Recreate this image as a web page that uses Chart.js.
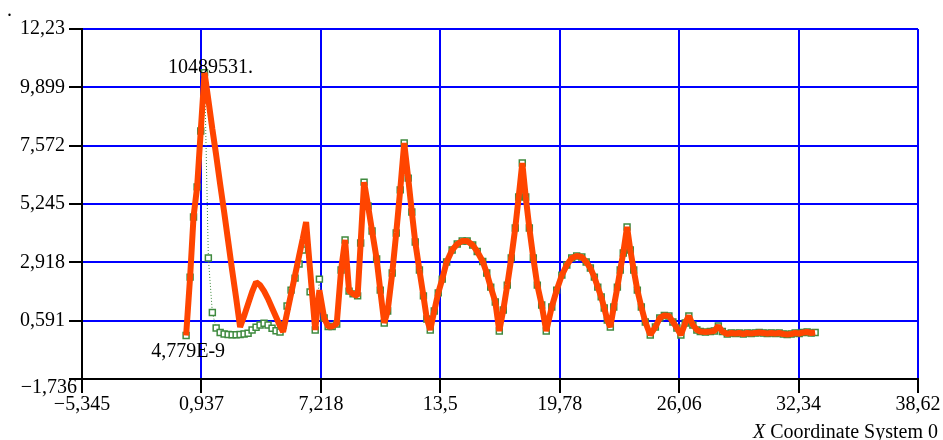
<!DOCTYPE html>
<html>
<head>
<meta charset="utf-8">
<script src="https://cdn.jsdelivr.net/npm/chart.js@4"></script>
<style>
  body { margin: 0; background: #fff; }
  #wrap { width: 943px; height: 440px; }
</style>
</head>
<body>
<div id="wrap"><canvas id="chart" width="943" height="440"></canvas></div>
<script>
// x positions of the samples
const xValues = [
  0.13, 0.34, 0.52, 0.71, 0.90, 1.10, 1.30, 1.51, 1.71, 1.92,
  2.13, 2.34, 2.55, 2.76, 2.97, 3.18, 3.39, 3.60, 3.81, 4.02,
  4.23, 4.44, 4.65, 4.86, 5.07, 5.23, 5.44, 5.65, 5.86, 6.07,
  6.26, 6.44, 6.65, 6.92, 7.14, 7.39, 7.60, 7.81, 8.05, 8.28,
  8.49, 8.70, 8.91, 9.15, 9.31, 9.49, 9.70, 9.91, 10.15, 10.34,
  10.55, 10.73, 10.97, 11.18, 11.39, 11.60, 11.81, 12.00, 12.18, 12.40,
  12.61, 12.79, 12.97, 13.18, 13.39, 13.60, 13.83, 14.12, 14.39, 14.65,
  14.91, 15.20, 15.44, 15.73, 15.94, 16.15, 16.39, 16.60, 16.81, 17.02,
  17.23, 17.44, 17.62, 17.81, 17.99, 18.18, 18.39, 18.60, 18.83, 19.07,
  19.36, 19.62, 19.89, 20.15, 20.41, 20.67, 20.94, 21.17, 21.39, 21.60,
  21.78, 21.96, 22.12, 22.28, 22.44, 22.62, 22.81, 22.96, 23.12, 23.32,
  23.49, 23.67, 23.86, 24.07, 24.28, 24.54, 24.81, 25.04, 25.28, 25.52,
  25.73, 25.94, 26.15, 26.38, 26.57, 26.78, 26.99, 27.17, 27.44, 27.70,
  27.91, 28.12, 28.33, 28.59, 28.80, 29.01, 29.22, 29.43, 29.64, 29.85,
  30.06, 30.27, 30.48, 30.69, 30.90, 31.11, 31.32, 31.53, 31.74, 31.95,
  32.16, 32.37, 32.58, 32.79, 33.00, 33.21
];

// thick orange curve
const orangeValues = [
  0.00, 2.33, 4.73, 5.93, 8.16, 10.49, 9.40, 8.24, 7.20, 6.04,
  4.93, 3.77, 2.61, 1.50, 0.34, 0.78, 1.26, 1.74, 2.13, 2.01,
  1.77, 1.46, 1.10, 0.74, 0.38, 0.14, 0.90, 1.66, 2.41, 3.17,
  3.85, 4.53, 2.61, 0.22, 1.81, 0.70, 0.36, 0.36, 0.46, 2.61,
  3.81, 1.77, 1.66, 1.58, 3.69, 6.12, 5.17, 4.17, 3.05, 1.81,
  0.50, 0.98, 2.49, 4.09, 5.81, 7.68, 6.28, 4.93, 3.73, 2.61,
  1.58, 0.66, 0.22, 0.98, 1.70, 2.25, 2.93, 3.41, 3.65, 3.77,
  3.77, 3.61, 3.35, 2.95, 2.49, 1.93, 1.34, 0.18, 1.02, 2.01,
  3.09, 4.29, 5.53, 6.88, 5.53, 4.29, 3.09, 2.01, 1.22, 0.18,
  1.14, 1.81, 2.41, 2.81, 3.09, 3.17, 3.13, 2.93, 2.69, 2.33,
  1.93, 1.54, 1.10, 0.62, 0.34, 1.14, 1.93, 2.61, 3.29, 4.33,
  3.41, 2.61, 1.81, 1.14, 0.54, 0.02, 0.34, 0.70, 0.80, 0.78,
  0.54, 0.30, 0.02, 0.50, 0.78, 0.42, 0.22, 0.16, 0.14, 0.16,
  0.18, 0.38, 0.16, 0.06, 0.10, 0.08, 0.10, 0.06, 0.10, 0.08,
  0.10, 0.12, 0.10, 0.08, 0.10, 0.08, 0.10, 0.06, 0.04, 0.06,
  0.10, 0.08, 0.12, 0.14, 0.10, 0.12
];

// green square markers (dotted)
const greenValues = [
  0.00, 2.33, 4.73, 5.93, 8.16, 10.49, 3.09, 0.92, 0.30, 0.12,
  0.06, 0.04, 0.03, 0.03, 0.04, 0.06, 0.09, 0.22, 0.33, 0.42,
  0.49, 0.42, 0.29, 0.19, 0.14, 0.42, 1.18, 1.81, 2.29, 2.85,
  3.41, 3.81, 1.74, 0.22, 2.25, 0.70, 0.36, 0.36, 0.46, 2.61,
  3.81, 1.77, 1.66, 1.58, 3.69, 6.12, 5.17, 4.17, 3.05, 1.81,
  0.50, 0.98, 2.49, 4.09, 5.81, 7.68, 6.28, 4.93, 3.73, 2.61,
  1.58, 0.66, 0.22, 0.98, 1.70, 2.25, 2.93, 3.41, 3.65, 3.77,
  3.77, 3.61, 3.35, 2.95, 2.49, 1.93, 1.34, 0.18, 1.02, 2.01,
  3.09, 4.29, 5.53, 6.88, 5.53, 4.29, 3.09, 2.01, 1.22, 0.18,
  1.14, 1.81, 2.41, 2.81, 3.09, 3.17, 3.13, 2.93, 2.69, 2.33,
  1.93, 1.54, 1.10, 0.62, 0.34, 1.14, 1.93, 2.61, 3.29, 4.33,
  3.41, 2.61, 1.81, 1.14, 0.54, 0.02, 0.34, 0.70, 0.80, 0.78,
  0.54, 0.30, 0.02, 0.50, 0.78, 0.42, 0.22, 0.16, 0.14, 0.16,
  0.18, 0.38, 0.16, 0.06, 0.10, 0.08, 0.10, 0.06, 0.10, 0.08,
  0.10, 0.12, 0.10, 0.08, 0.10, 0.08, 0.10, 0.06, 0.04, 0.06,
  0.10, 0.08, 0.12, 0.14, 0.10, 0.12
];

const xTicks = [-5.345, 0.937, 7.218, 13.5, 19.78, 26.06, 32.34, 38.62];
const yTicks = [-1.736, 0.591, 2.918, 5.245, 7.572, 9.899, 12.23];

const maxLabel = '10489531.';
const minLabel = '4,779E-9';
const xTitle = 'Coordinate System 0';

const FONT = "'Liberation Serif', 'Times New Roman', serif";

function fmt(v) {
  return String(v).replace('.', ',').replace('-', '\u2212');
}

function toPoints(ys) {
  return xValues.map((x, i) => ({ x: x, y: ys[i] }));
}

// Текст поверх графика: подписи экстремумов, заголовок оси, нижняя метка Y
const extras = {
  id: 'extras',
  afterDraw(chart) {
    const ctx = chart.ctx;
    const xs = chart.scales.x;
    const ys = chart.scales.y;
    ctx.save();
    ctx.fillStyle = '#000';
    ctx.font = '20px ' + FONT;

    // max marker label
    let iMax = 0;
    greenValues.forEach((v, i) => { if (v > greenValues[iMax]) iMax = i; });
    const px = xs.getPixelForValue(xValues[iMax]);
    const py = ys.getPixelForValue(greenValues[iMax]);
    ctx.textAlign = 'center';
    ctx.textBaseline = 'alphabetic';
    ctx.fillText(maxLabel, px + 6, py);

    // min marker label
    const mx = xs.getPixelForValue(xValues[0]);
    const my = ys.getPixelForValue(greenValues[0]);
    ctx.fillText(minLabel, mx + 2, my + 22);

    // bottom y tick label, pushed down into the corner
    ctx.textAlign = 'right';
    ctx.textBaseline = 'middle';
    ctx.fillText(fmt(yTicks[0]), ys.right - 5, ys.bottom + 9);

    // axis title with italic X
    ctx.textAlign = 'right';
    ctx.textBaseline = 'alphabetic';
    const tw = ctx.measureText(' ' + xTitle).width;
    ctx.fillText(' ' + xTitle, 938, 438);
    ctx.font = 'italic 20px ' + FONT;
    ctx.fillText('X', 938 - tw, 438);

    // little dot top-left
    ctx.font = '20px ' + FONT;
    ctx.textAlign = 'left';
    ctx.fillText('.', 7, 16);
    ctx.restore();
  }
};

new Chart(document.getElementById('chart'), {
  type: 'line',
  data: {
    datasets: [
      {
        data: toPoints(orangeValues),
        borderColor: '#ff4500',
        borderWidth: 6,
        borderJoinStyle: 'bevel',
        pointRadius: 0,
        fill: false,
        tension: 0
      },
      {
        data: toPoints(greenValues),
        borderColor: '#3f8a3f',
        borderWidth: 1,
        borderDash: [1, 2],
        pointStyle: 'rect',
        pointRadius: 4.2,
        pointBorderWidth: 1.5,
        pointBorderColor: '#3f8a3f',
        pointBackgroundColor: '#ffffff',
        fill: false,
        tension: 0
      }
    ]
  },
  options: {
    responsive: false,
    devicePixelRatio: 1,
    animation: false,
    layout: { padding: { top: 29, right: 25, left: 0, bottom: 0 } },
    plugins: { legend: { display: false }, tooltip: { enabled: false } },
    scales: {
      x: {
        type: 'linear',
        min: -5.345,
        max: 38.62,
        afterBuildTicks: s => { s.ticks = xTicks.map(v => ({ value: v })); },
        afterFit: s => { s.height = 61; },
        ticks: {
          callback: v => fmt(v),
          color: '#000',
          font: { family: FONT, size: 20 },
          maxRotation: 0,
          autoSkip: false,
          padding: 0
        },
        grid: { color: '#0000ff', lineWidth: 2, tickColor: '#000', tickLength: 14, tickWidth: 2 },
        border: { color: '#000', width: 2 }
      },
      y: {
        type: 'linear',
        min: -1.736,
        max: 12.23,
        afterBuildTicks: s => { s.ticks = yTicks.map(v => ({ value: v })); },
        afterFit: s => { s.width = 82; },
        ticks: {
          callback: v => (v === yTicks[0] ? '' : fmt(v)),
          color: '#000',
          font: { family: FONT, size: 20 },
          autoSkip: false,
          padding: 4
        },
        grid: { color: '#0000ff', lineWidth: 2, tickColor: '#000', tickLength: 13, tickWidth: 2 },
        border: { color: '#000', width: 2 }
      }
    }
  },
  plugins: [extras]
});
</script>
</body>
</html>
